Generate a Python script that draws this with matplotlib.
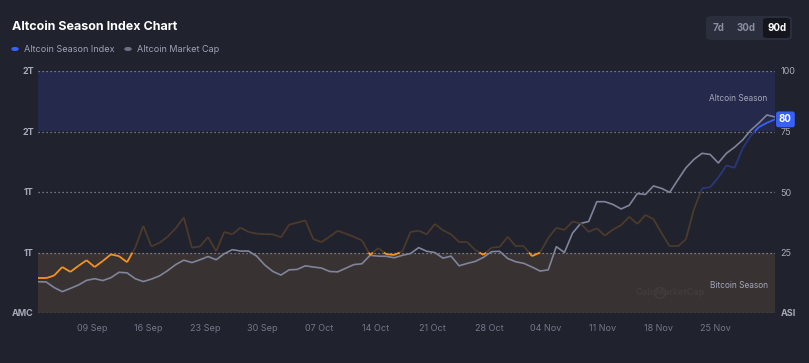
import matplotlib
matplotlib.use("Agg")
import matplotlib.pyplot as plt
import matplotlib.dates as mdates
from matplotlib.collections import LineCollection
from matplotlib.patches import FancyBboxPatch
import numpy as np
import pandas as pd

plt.rcParams['font.family'] = ['Inter', 'DejaVu Sans']

# ---------------- data ----------------
asi = [14.4, 14.4, 15.5, 19, 17, 19.5, 21.8, 19, 21.5, 24.2, 23.5, 21, 27, 36, 27.5, 29,
       31.5, 35, 39.5, 27, 27.5, 31.4, 25.5, 33.5, 32.5, 35.3, 33.5, 32.8, 32.6, 32.5, 31.3,
       36.5, 37.3, 38.3, 30.5, 29.3, 31.5, 34, 32.8, 31.5, 30, 24, 26.8, 24.3, 24, 25.5,
       33.5, 34, 32.5, 36.8, 34.2, 32.5, 29.3, 29.3, 26, 24, 27, 27.3, 31.5, 27.5, 27.5,
       23.5, 25, 31, 35.2, 34.3, 37.8, 37, 33.5, 35, 32, 34.5, 36.3, 39.8, 36.8, 40.5,
       38.8, 33, 27.5, 27.5, 30.5, 43, 51.5, 52, 56, 61, 60, 68, 73.2, 76.8, 78.6, 80]

market_cap_b = [855, 854, 826, 806, 822, 839, 862, 870, 861, 875, 902, 899, 870, 856, 868,
                884, 910, 940, 962, 950, 964, 980, 964, 994, 1014, 1007, 1007, 982, 938, 906,
                888, 914, 916, 934, 928, 923, 906, 904, 922, 940, 944, 986, 982, 981, 974,
                986, 995, 1024, 1006, 1000, 972, 982, 934, 946, 956, 976, 1004, 1006, 970,
                954, 946, 928, 908, 914, 1029, 1000, 1096, 1144, 1154, 1252, 1252, 1238,
                1216, 1234, 1292, 1288, 1330, 1318, 1298, 1360, 1420, 1462, 1492, 1486,
                1444, 1492, 1522, 1558, 1606, 1642, 1682, 1672]

start_date = '2024-09-02 08:00'
x_tick_dates = ['2024-09-09', '2024-09-16', '2024-09-23', '2024-09-30', '2024-10-07',
                '2024-10-14', '2024-10-21', '2024-10-28', '2024-11-04', '2024-11-11',
                '2024-11-18', '2024-11-25']
asi_ticks = [0, 25, 50, 75, 100]
asi_tick_labels = ['ASI', '25', '50', '75', '100']
mcap_ticks = [700, 1000, 1300, 1600, 1900]
mcap_tick_labels = ['AMC', '1T', '1T', '2T', '2T']
zone_thresholds = [25, 50, 75]
current_value = 80

# ---------------- style ----------------
BG = '#20222e'
ALT_BAND = '#252a4c'
BTC_BAND = '#383233'
GRID = '#a3a6b3'
ORANGE = '#f7931a'
DIM_ORANGE = '#4c3a2b'
DIM_BLUE = '#29377e'
BLUE = '#3861fb'
GRAY_LINE = '#80849a'
TXT = '#9ea2b3'

W, H = 809, 363
fig = plt.figure(figsize=(W / 100, H / 100), dpi=100, facecolor=BG)

def fx(px):
    return px / W

def fy(py):
    return 1 - py / H

L, R, T, B = 38, 775, 71, 313
ax = fig.add_axes([fx(L), fy(B), fx(R) - fx(L), fy(T) - fy(B)])
ax.set_facecolor(BG)
ax2 = ax.twinx()

dates = pd.date_range(start_date, periods=len(asi), freq='D')
xnum = mdates.date2num(dates)

# market cap axis (left, base)
ax.set_ylim(mcap_ticks[0], mcap_ticks[-1])
ax.set_xlim(xnum[0], xnum[-1])
ax.axhspan(1600, 1900, color=ALT_BAND, zorder=0, lw=0)
ax.axhspan(700, 1000, color=BTC_BAND, zorder=0, lw=0)
for t in mcap_ticks:
    ax.axhline(t, color=GRID, lw=0.9, ls=(0, (1, 2.2)), zorder=1, alpha=0.85)
ax.plot(xnum, market_cap_b, color=GRAY_LINE, lw=1.2, zorder=3, solid_capstyle='round')
ax.set_yticks(mcap_ticks)
ax.set_yticklabels(mcap_tick_labels)
ax.tick_params(axis='y', length=0, pad=3, labelsize=6.5, colors='#a7aab8')
for lab in ax.get_yticklabels():
    lab.set_fontweight('bold')

ax.set_xticks(mdates.date2num(pd.to_datetime(x_tick_dates)))
ax.xaxis.set_major_formatter(mdates.DateFormatter('%d %b'))
ax.tick_params(axis='x', length=0, pad=8, labelsize=6.5, colors='#737789')
for s in ax.spines.values():
    s.set_visible(False)

# ASI axis (right, twin)
ax2.set_ylim(0, 100)
ax2.set_xlim(xnum[0], xnum[-1])
ax2.set_yticks(asi_ticks)
ax2.set_yticklabels(asi_tick_labels)
ax2.tick_params(axis='y', length=0, pad=4, labelsize=6.5, colors='#a7aab8')
ax2.get_yticklabels()[0].set_fontweight('bold')
for s in ax2.spines.values():
    s.set_visible(False)


def zone_color(v):
    if v <= 25:
        return ORANGE
    if v <= 50:
        return DIM_ORANGE
    if v < 75:
        return DIM_BLUE
    return BLUE


# split each segment where it crosses a zone boundary so colours change exactly there
segs, cols = [], []
for i in range(len(asi) - 1):
    x0, x1 = xnum[i], xnum[i + 1]
    y0, y1 = asi[i], asi[i + 1]
    cuts = [0.0]
    for th in zone_thresholds:
        if (y0 - th) * (y1 - th) < 0:
            cuts.append((th - y0) / (y1 - y0))
    cuts.append(1.0)
    cuts.sort()
    for a, b in zip(cuts[:-1], cuts[1:]):
        pa = (x0 + a * (x1 - x0), y0 + a * (y1 - y0))
        pb = (x0 + b * (x1 - x0), y0 + b * (y1 - y0))
        segs.append([pa, pb])
        cols.append(zone_color((pa[1] + pb[1]) / 2))
lc = LineCollection(segs, colors=cols, linewidths=1.3, capstyle='butt', joinstyle='round', zorder=4)
ax2.add_collection(lc)

ax2.text(0.99, 88.5, 'Altcoin Season', transform=ax2.get_yaxis_transform(),
         ha='right', va='center', fontsize=6, color='#a4a7b7')
ax2.text(0.99, 11.5, 'Bitcoin Season', transform=ax2.get_yaxis_transform(),
         ha='right', va='center', fontsize=6, color='#a4a7b7', zorder=6)
ax2.text(0.905, 8.3, 'CoinMarketCap', transform=ax2.get_yaxis_transform(),
         ha='right', va='center', fontsize=6.5, color='#423b3c', fontweight='bold', zorder=2)
ax2.scatter([0.844], [8.3], s=60, transform=ax2.get_yaxis_transform(),
            facecolors='none', edgecolors='#423b3c', linewidths=1.2, zorder=2)

ax2.annotate(f'{current_value}', xy=(xnum[-1], current_value), xytext=(7.5, 0),
             textcoords='offset points', ha='center', va='center', fontsize=7,
             color='white', fontweight='bold', annotation_clip=False,
             bbox=dict(boxstyle='round,pad=0.3,rounding_size=0.25', fc=BLUE, ec='none'))

# ---------------- header ----------------
fig.text(fx(12), fy(27), 'Altcoin Season Index Chart', fontsize=9, fontweight='bold',
         color='white', ha='left', va='center')
fig.patches.append(plt.Circle((fx(15), fy(49)), 3 / W, transform=fig.transFigure,
                              color=BLUE))
fig.text(fx(24), fy(49), 'Altcoin Season Index', fontsize=6.5, color=TXT, ha='left', va='center')
fig.patches.append(plt.Circle((fx(128), fy(49)), 3 / W, transform=fig.transFigure,
                              color='#6c7085'))
fig.text(fx(137), fy(49), 'Altcoin Market Cap', fontsize=6.5, color=TXT, ha='left', va='center')

# period buttons
fig.patches.append(FancyBboxPatch((fx(706), fy(40)), fx(792) - fx(706), fy(16) - fy(40),
                                  boxstyle='round,pad=0,rounding_size=0.008',
                                  transform=fig.transFigure, fc='#2b2e3c', ec='none'))
fig.patches.append(FancyBboxPatch((fx(763), fy(38)), fx(790) - fx(763), fy(18) - fy(38),
                                  boxstyle='round,pad=0,rounding_size=0.006',
                                  transform=fig.transFigure, fc='#15161d', ec='none'))
fig.text(fx(719), fy(28), '7d', fontsize=7, color='#8a8ea1', fontweight='bold', ha='center', va='center')
fig.text(fx(746), fy(28), '30d', fontsize=7, color='#8a8ea1', fontweight='bold', ha='center', va='center')
fig.text(fx(777), fy(28), '90d', fontsize=7, color='white', fontweight='bold', ha='center', va='center')

fig.savefig('out.png', dpi=100, facecolor=BG)
